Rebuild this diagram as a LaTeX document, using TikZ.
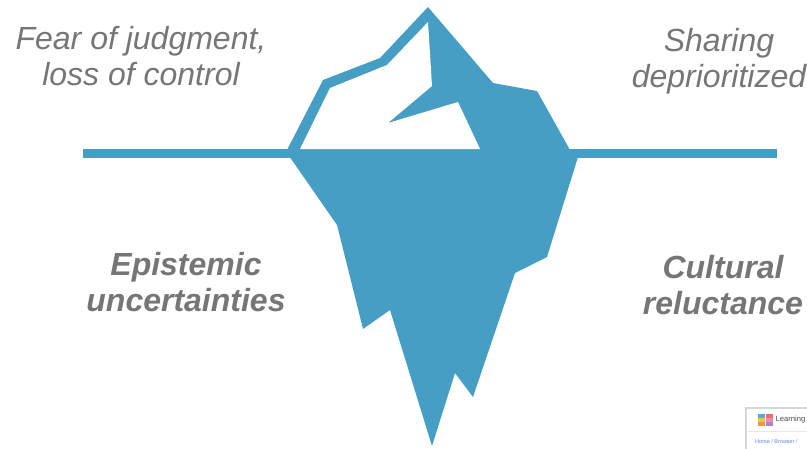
\documentclass[tikz,border=0pt]{standalone}
\usepackage{fontspec}
\setmainfont{Liberation Sans}
\definecolor{ice}{RGB}{70,158,196}
\definecolor{labelgray}{RGB}{118,118,118}
\definecolor{framegray}{RGB}{214,214,214}
\definecolor{linkblue}{RGB}{90,140,210}
\definecolor{tileblue}{RGB}{80,170,230}
\definecolor{tileyellow}{RGB}{245,200,60}
\definecolor{tileorange}{RGB}{240,150,60}
\definecolor{tilered}{RGB}{235,110,110}
\definecolor{tilepink}{RGB}{240,140,170}
\definecolor{tilepurple}{RGB}{170,130,210}
\begin{document}
\begin{tikzpicture}[x=1pt,y=-1pt,
  lbl/.style={inner sep=0pt,align=center,text=labelgray,font=\fontsize{32}{36}\selectfont\itshape},
  boldlbl/.style={lbl,font=\fontsize{32}{36}\selectfont\bfseries\itshape}]
\useasboundingbox (0,0) rectangle (807,448);

% waterline
\draw[ice,line width=9pt] (83,153.5) -- (777,153.5);

% iceberg silhouette, above and below the water
\fill[ice] (287,150) -- (323,80) -- (380,58) -- (428,7) -- (493,83) -- (537,91)
  -- (570,150) -- (578,157) -- (547,257) -- (515,273) -- (473,397) -- (455,373)
  -- (432,446) -- (390,310) -- (363,329) -- (337,225) -- (287,153) -- cycle;
% white face of the visible tip
\fill[white] (428,22) -- (387,65) -- (330,88) -- (300,149) -- (480,149)
  -- (458,102) -- (388,123) -- (432,86) -- cycle;

% labels
\node[lbl] (fear) at (141,56) {Fear of judgment,\\loss of control};
\node[lbl] (share) at (719,61) {Sharing\\deprioritized};
\node[boldlbl] (epist) at (186,282) {Epistemic\\uncertainties};
\node[boldlbl] (cult) at (723,285) {Cultural\\reluctance};

% corner of a browser window
\begin{scope}
\clip (740,400) rectangle (807,448);
\draw[framegray,line width=1.5pt,fill=white] (746,408) rectangle (820,460);
\draw[framegray!60,line width=0.8pt] (746,431) -- (820,431);
\fill[tileblue] (758,414) rectangle (765,417.5);
\fill[tileyellow] (758,418) rectangle (765,421.5);
\fill[tileorange] (758,422) rectangle (765,425.5);
\fill[tilered] (766,414) rectangle (773,417.5);
\fill[tilepink] (766,418) rectangle (773,421.5);
\fill[tilepurple] (766,422) rectangle (773,425.5);
\node[anchor=west,inner sep=0pt,text=black!70,font=\fontsize{7.6}{9}\selectfont] (app) at (775.5,420) {Learning};
\node[anchor=west,inner sep=0pt,text=linkblue,font=\fontsize{5.5}{7}\selectfont] (crumb) at (755,442) {Home / Browser /};
\end{scope}
\end{tikzpicture}
\end{document}
